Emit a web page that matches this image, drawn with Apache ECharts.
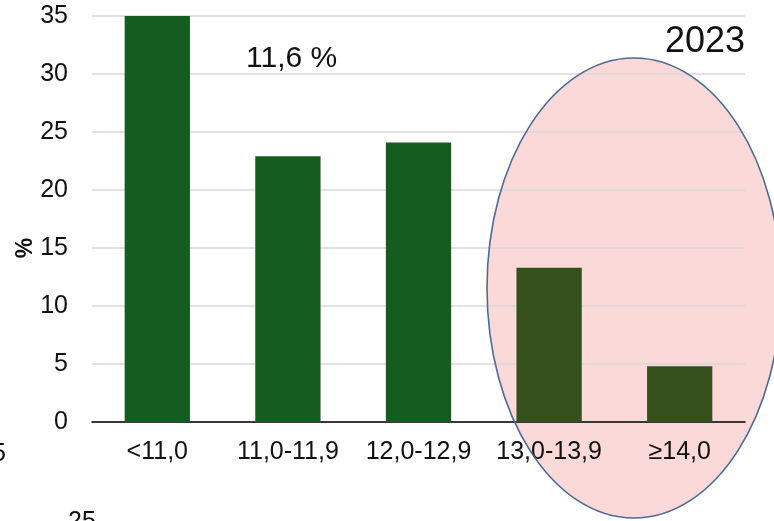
<!DOCTYPE html>
<html>
<head>
<meta charset="utf-8">
<script src="https://cdn.jsdelivr.net/npm/echarts@6/dist/echarts.min.js"></script>
<style>
  html, body { margin: 0; padding: 0; background: #fff; }
  #chart { width: 774px; height: 521px; }
</style>
</head>
<body>
<div id="chart"></div>
<script>
// data
var categories = ['<11,0', '11,0-11,9', '12,0-12,9', '13,0-13,9', '≥14,0'];
var values = [35, 22.9, 24.1, 13.3, 4.8];
var highlighted = [false, false, false, true, true];

var chart = echarts.init(document.getElementById('chart'));
var font = 'Liberation Sans, Arial, sans-serif';

var option = {
    backgroundColor: '#fff',
    animation: false,
    grid: { left: 92, right: 29, top: 16, bottom: 99 },
    xAxis: {
        type: 'category',
        data: categories,
        axisLine: { lineStyle: { color: '#000', width: 1.5 } },
        axisTick: { show: false },
        axisLabel: { color: '#111', fontSize: 25, fontFamily: font, margin: 18, interval: 0 }
    },
    yAxis: {
        type: 'value',
        min: 0, max: 35, interval: 5,
        axisLine: { show: false },
        axisTick: { show: false },
        axisLabel: { color: '#111', fontSize: 25, fontFamily: font, margin: 24 },
        splitLine: { lineStyle: { color: '#d9d9d9', width: 1.5 } }
    },
    series: [{
        type: 'bar',
        barWidth: '50%',
        z: 3,
        data: values.map(function (v, i) {
            return { value: v, itemStyle: { color: highlighted[i] ? '#36501d' : '#145c1f' } };
        })
    }],
    graphic: [
        // ellipse fill behind everything
        { type: 'ellipse', z: -10, shape: { cx: 634, cy: 288, rx: 147, ry: 230 },
          style: { fill: '#fcd9d9' } },
        // ellipse outline on top
        { type: 'ellipse', z: 100, shape: { cx: 634, cy: 288, rx: 147, ry: 230 },
          style: { fill: 'none', stroke: '#4d6b94', lineWidth: 1.6 } },
        // axis name
        { type: 'text', z: 100, x: 26, y: 248, rotation: Math.PI / 2,
          style: { text: '%', fill: '#111', fontSize: 23, fontWeight: 'bold', fontFamily: font,
                   align: 'center', verticalAlign: 'middle' } },
        { type: 'text', z: 100, left: 246, top: 44,
          style: { text: '11,6 %', fill: '#111', fontSize: 30, fontFamily: font } },
        { type: 'text', z: 100, left: 665, top: 24,
          style: { text: '2023', fill: '#111', fontSize: 36, fontFamily: font } },
        // fragments of a neighbouring chart at the edges
        { type: 'text', z: 100, left: -8, top: 442,
          style: { text: '5', fill: '#111', fontSize: 25, fontFamily: font } },
        { type: 'text', z: 100, left: 68, top: 510,
          style: { text: '25', fill: '#111', fontSize: 25, fontFamily: font } }
    ]
};

chart.setOption(option);
</script>
</body>
</html>
